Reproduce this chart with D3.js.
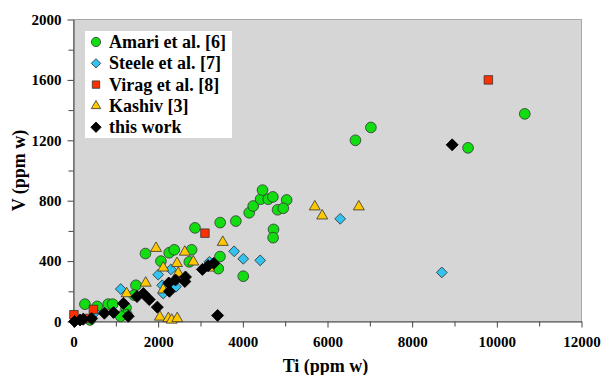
<!DOCTYPE html>
<html>
<head>
<meta charset="utf-8">
<script src="https://cdn.jsdelivr.net/npm/d3@7"></script>
<style>
  body { margin: 0; background: #fff; }
</style>
</head>
<body>
<div id="chart"></div>
<script>
// Ti (ppm w) vs V (ppm w)
const amari = [
  [270, 115], [560, 100], [820, 115], [925, 115], [1240, 90], [1260, 45], [1115, 35],
  [1475, 240], [1430, 175], [390, 10], [1700, 450], [2065, 400], [2260, 455], [2380, 475],
  [2790, 475], [2735, 395], [3460, 430], [3420, 350], [2870, 620], [3465, 655], [3835, 665],
  [4010, 300], [4150, 720], [4245, 765], [4420, 810], [4465, 870], [4600, 810], [4710, 825],
  [5035, 805], [4820, 740], [4955, 750], [4725, 610], [4715, 555], [6660, 1200],
  [7025, 1285], [9320, 1150], [10660, 1375]
];
const steele = [
  [1115, 215], [2000, 310], [2300, 345], [2095, 240], [2120, 185], [2420, 230],
  [3795, 465], [4010, 415], [4410, 405], [3210, 395], [6300, 680], [8700, 325], [510, 60]
];
const virag = [[10, 45], [470, 80], [310, 20], [3105, 585], [9800, 1600]];
const kashiv = [
  [1255, 185], [1705, 255], [1950, 485], [2630, 460], [3525, 525], [2120, 355], [2445, 385],
  [2475, 320], [2830, 395], [3205, 355], [2120, 210], [2040, 30], [2240, 20], [2320, 10],
  [2450, 20], [5700, 760], [5875, 700], [6740, 760]
];
const thisWork = [
  [25, 0], [155, 10], [230, 15], [430, 20], [730, 55], [945, 60], [1295, 35], [1180, 120],
  [1500, 165], [1650, 185], [1790, 145], [1980, 95], [2265, 200], [2250, 255], [2410, 275],
  [2645, 295], [2630, 265], [3045, 345], [3180, 370], [3315, 385], [3405, 40], [8945, 1170]
];

const xTicks = [0, 2000, 4000, 6000, 8000, 10000, 12000];
const yTicks = [0, 400, 800, 1200, 1600, 2000];

const FONT = '"Liberation Serif", "DejaVu Serif", "Times New Roman", serif';

const series = [
  { name: 'Amari et al. [6]', data: amari, shape: 'circle', size: 90, fill: '#11dd11' },
  { name: 'Steele et al. [7]', data: steele, shape: 'diamond', size: 58, fill: '#33c3f0' },
  { name: 'Virag et al. [8]', data: virag, shape: 'square', size: 72, fill: '#ff3000' },
  { name: 'Kashiv [3]', data: kashiv, shape: 'triangle', size: 52, fill: '#ffc800' },
  { name: 'this work', data: thisWork, shape: 'diamond', size: 72, fill: '#000000' }
];
const symbolType = { circle: d3.symbolCircle, diamond: d3.symbolSquare, square: d3.symbolSquare, triangle: d3.symbolTriangle };

const W = 603, H = 375;
const margin = { top: 19.5, right: 21.5, bottom: 53.5, left: 73.5 };
const width = W - margin.left - margin.right;
const height = H - margin.top - margin.bottom;

const svg = d3.select('#chart').append('svg')
  .attr('width', W).attr('height', H);

const g = svg.append('g')
  .attr('transform', `translate(${margin.left},${margin.top})`);

const x = d3.scaleLinear().domain([0, 12000]).range([0, width]);
const y = d3.scaleLinear().domain([0, 2000]).range([height, 0]);

g.append('rect')
  .attr('width', width).attr('height', height)
  .attr('fill', '#d6d6d6')
  .attr('stroke', '#a8a8a8');

// minor ticks
g.append('g')
  .attr('transform', `translate(0,${height})`)
  .call(d3.axisBottom(x).tickValues(d3.range(1000, 12000, 2000)).tickSize(5).tickFormat(''))
  .call(a => a.select('.domain').remove())
  .call(a => a.selectAll('line').attr('stroke', '#444'));
g.append('g')
  .call(d3.axisLeft(y).tickValues(d3.range(200, 2000, 400)).tickSize(5).tickFormat(''))
  .call(a => a.select('.domain').remove())
  .call(a => a.selectAll('line').attr('stroke', '#444'));

const xAxis = g.append('g')
  .attr('transform', `translate(0,${height})`)
  .call(d3.axisBottom(x).tickValues(xTicks).tickFormat(d3.format('d'))
    .tickSize(6).tickSizeOuter(0).tickPadding(9));

const yAxis = g.append('g')
  .call(d3.axisLeft(y).tickValues(yTicks).tickFormat(d3.format('d'))
    .tickSize(6).tickSizeOuter(0).tickPadding(6));

[xAxis, yAxis].forEach(a => {
  a.attr('font-family', FONT).attr('font-size', 15).attr('font-weight', 'bold');
  a.select('.domain').attr('stroke', '#444');
  a.selectAll('line').attr('stroke', '#444');
  a.selectAll('text').attr('fill', '#000');
});

function mark(sel, s, scale) {
  sel.attr('d', d3.symbol().type(symbolType[s.shape]).size(s.size * scale))
    .attr('fill', s.fill)
    .attr('stroke', s.fill === '#000000' ? '#000' : '#333')
    .attr('stroke-width', 0.8);
}

// points
series.forEach(s => {
  const rot = s.shape === 'diamond' ? ' rotate(45)' : '';
  g.append('g').selectAll('path')
    .data(s.data)
    .enter().append('path')
    .attr('transform', d => `translate(${x(d[0])},${y(d[1])})${rot}`)
    .call(mark, s, 1);
});

// legend
const leg = svg.append('g').attr('transform', 'translate(85,31)')
  .attr('font-family', FONT).attr('font-weight', 'bold');
leg.append('rect').attr('width', 147).attr('height', 107).attr('fill', '#fff');
series.forEach((s, i) => {
  const row = leg.append('g').attr('transform', `translate(0,${11 + i * 21.3})`);
  const rot = s.shape === 'diamond' ? ' rotate(45)' : '';
  row.append('path')
    .attr('transform', `translate(11,0)${rot}`)
    .call(mark, s, 0.75);
  row.append('text')
    .attr('x', 24).attr('y', 6)
    .attr('font-size', 18)
    .text(s.name);
});

// axis titles
svg.append('text')
  .attr('x', margin.left + width / 2 - 2)
  .attr('y', 372)
  .attr('text-anchor', 'middle')
  .attr('font-family', FONT).attr('font-weight', 'bold')
  .attr('font-size', 18)
  .text('Ti (ppm w)');

svg.append('text')
  .attr('transform', `translate(25,${margin.top + height / 2}) rotate(-90)`)
  .attr('text-anchor', 'middle')
  .attr('font-family', FONT).attr('font-weight', 'bold')
  .attr('font-size', 18)
  .text('V (ppm w)');
</script>
</body>
</html>
